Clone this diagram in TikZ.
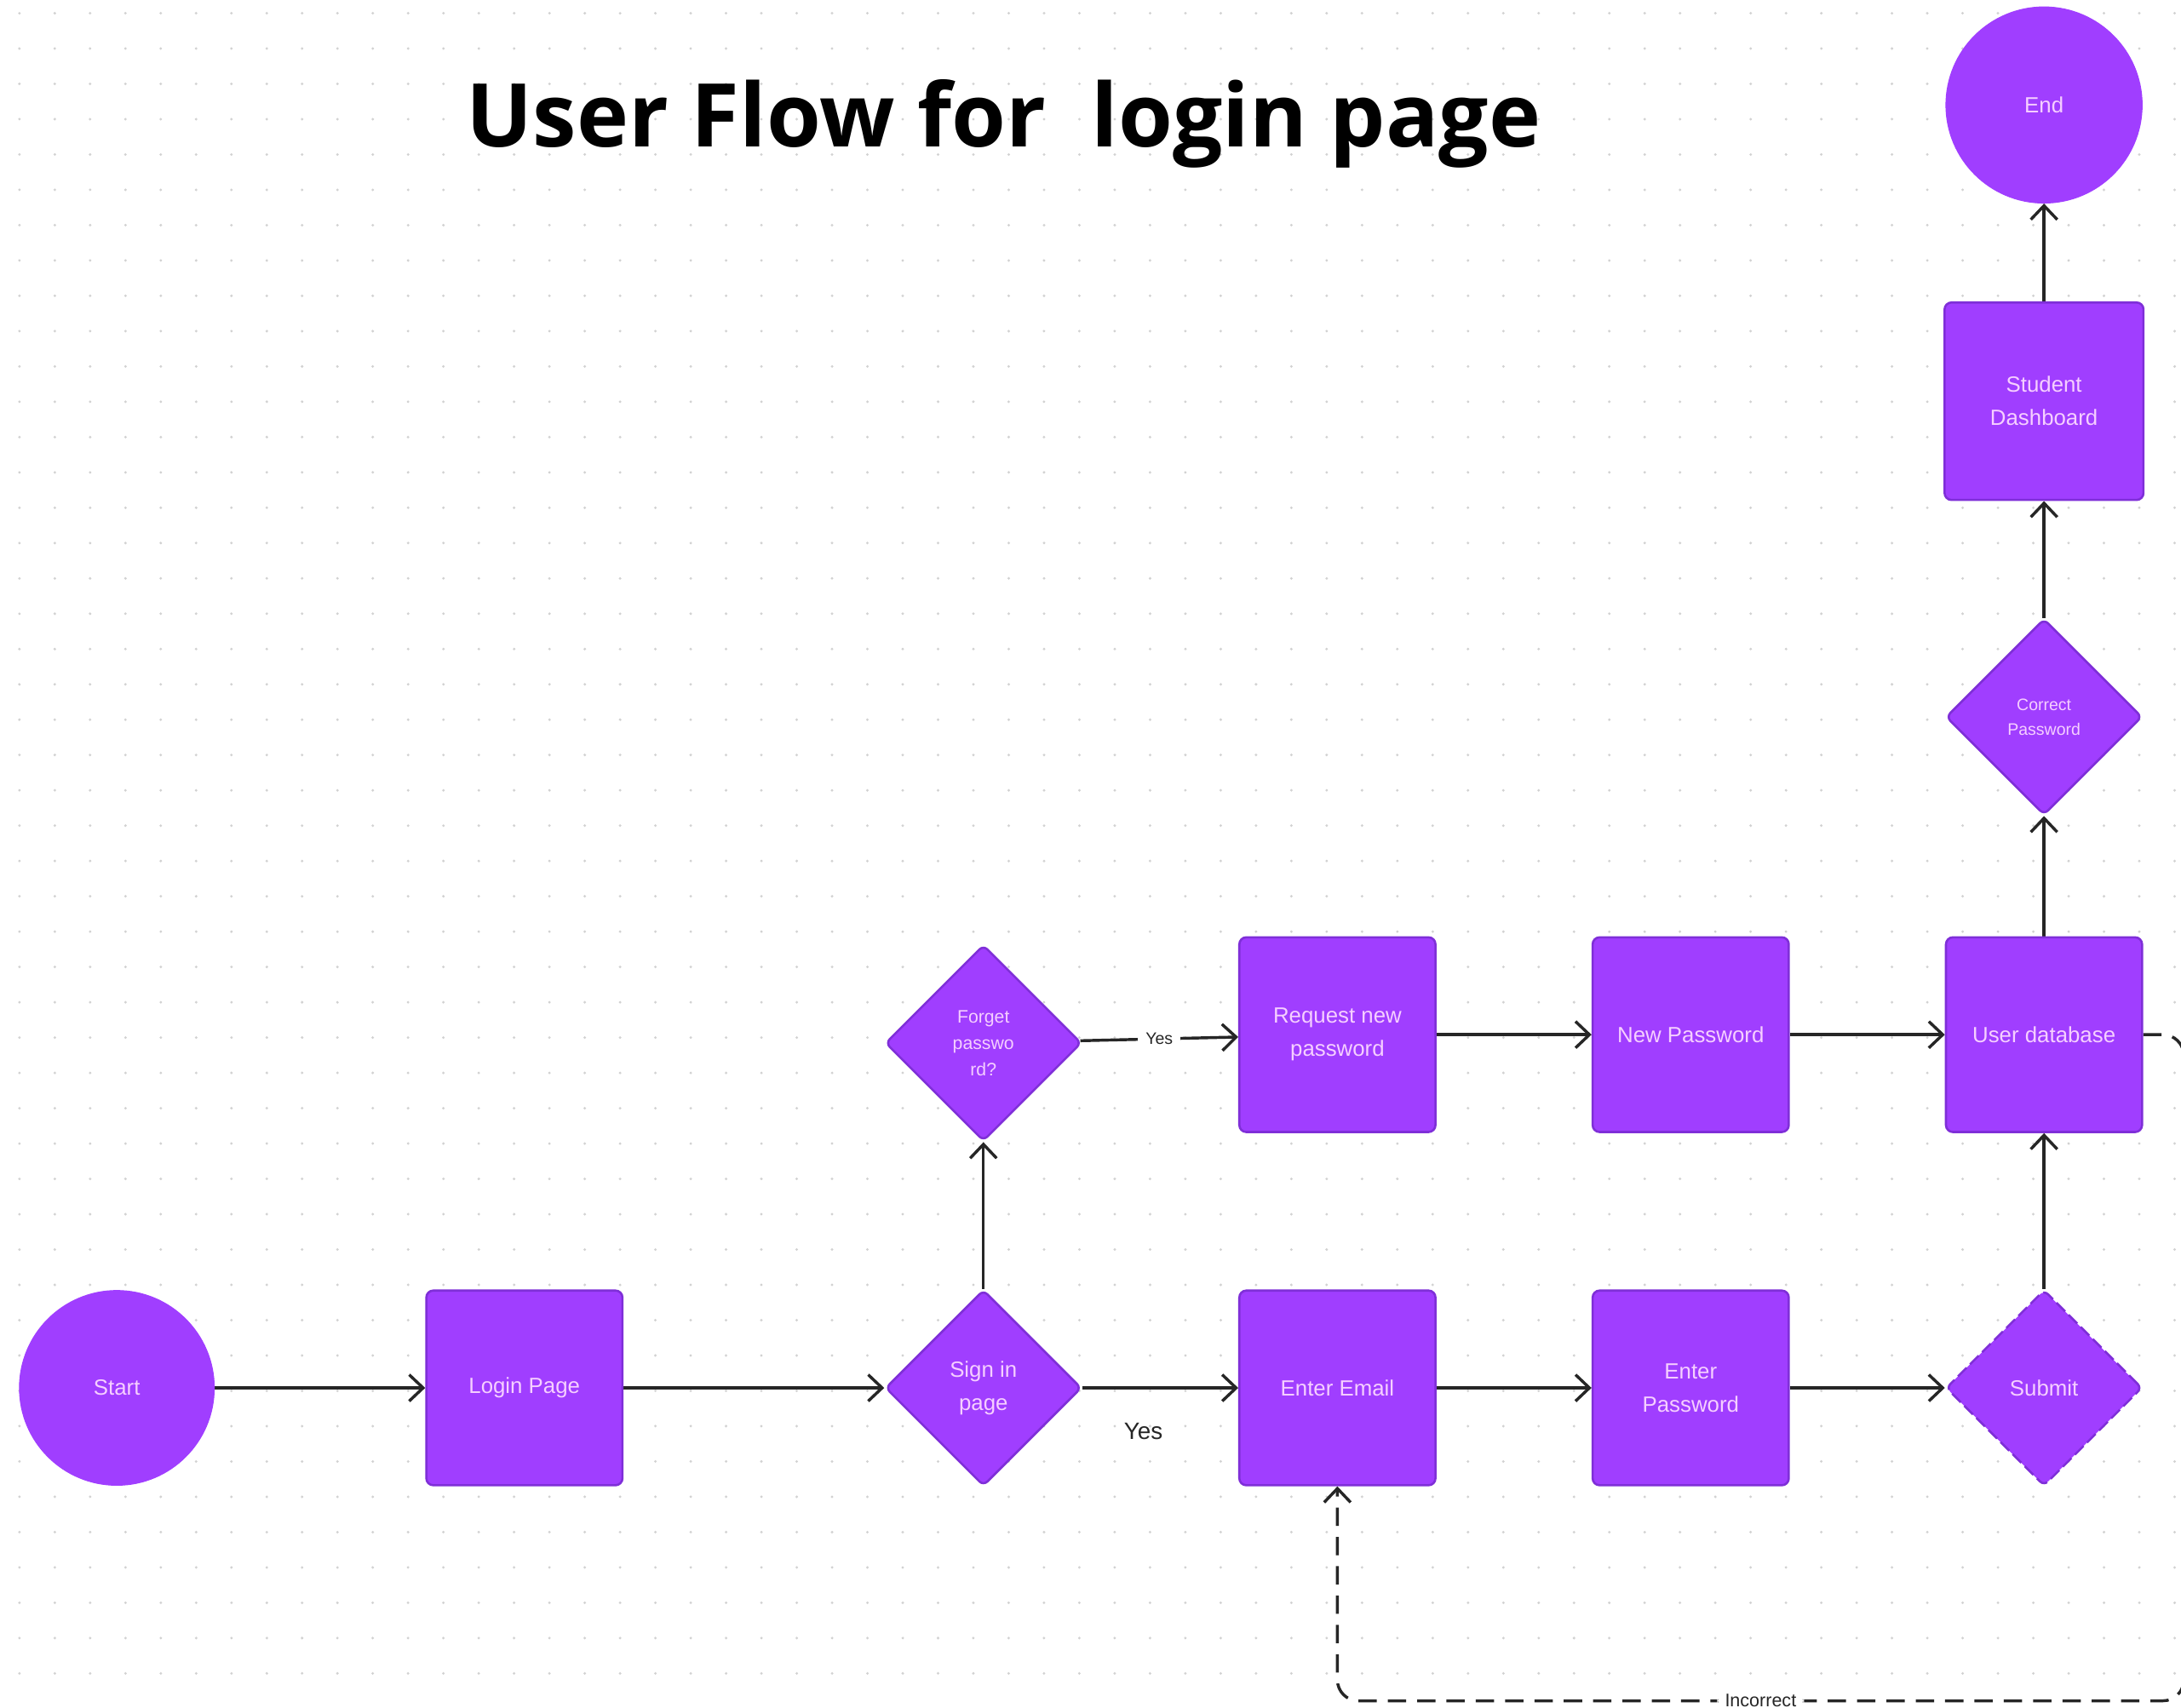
\documentclass[tikz,border=0pt]{standalone}
\usepackage{fontspec}
\setmainfont{Liberation Sans}
\newfontfamily\headfont{Open Sans}
\usepackage{tikz}
\usetikzlibrary{shapes,arrows.meta}
\pgfdeclarelayer{dotlayer}
\pgfdeclarelayer{edgelayer}
\pgfdeclarelayer{nodelayer}
\pgfsetlayers{dotlayer,edgelayer,nodelayer,main}
\definecolor{vpurple}{HTML}{A03EFF}
\definecolor{dpurple}{HTML}{7F2FD8}
\definecolor{lpink}{HTML}{F6CFFF}
\definecolor{ink}{HTML}{262626}
\definecolor{gridgray}{HTML}{D2D2D2}
\tikzstyle{terminal}=[circle, fill=vpurple, draw=vpurple, minimum size=2.8cm, inner sep=0pt, text=lpink, font=\fontsize{9}{13.6}\selectfont]
\tikzstyle{process}=[rectangle, rounded corners=0.1cm, fill=vpurple, draw=dpurple, line width=0.9pt, minimum width=2.82cm, minimum height=2.8cm, inner sep=0pt, text=lpink, align=center, font=\fontsize{9}{13.6}\selectfont]
\tikzstyle{decision}=[diamond, aspect=1, rounded corners=0.08cm, fill=vpurple, draw=dpurple, line width=0.9pt, minimum width=2.82cm, minimum height=2.82cm, inner sep=0pt, text=lpink, align=center, font=\fontsize{9}{13.6}\selectfont]
\tikzstyle{flow}=[-{Straight Barb[length=2mm,width=3.8mm]}, draw=ink, line width=1.2pt]
\tikzstyle{loopback}=[flow, dash pattern=on 7.5pt off 4.5pt, rounded corners=0.3cm]
\tikzstyle{edgelbl}=[fill=white, text=ink, inner sep=3.2pt, font=\fontsize{6.8}{8}\selectfont]
\tikzstyle{headline}=[text=black, inner sep=0pt, font=\headfont\bfseries\fontsize{36}{40}\selectfont]

\begin{document}
\begin{tikzpicture}
            \useasboundingbox (0,0) rectangle (31.36,-24.56);
            \begin{pgfonlayer}{dotlayer}
                \fill [white] (0,0) rectangle (31.36,-24.56);
                \foreach \i in {0,...,61}
                    \foreach \j in {0,...,47}
                        \fill [gridgray] ({0.28+\i*0.508},{-0.19-\j*0.508}) circle (0.02);
            \end{pgfonlayer}
            \begin{pgfonlayer}{nodelayer}
                \node [style=headline, anchor=base] (title) at (14.43, -2.11) {User Flow for\ \ login page};
                \node [style=terminal] (start) at (1.68, -19.96) {Start};
                \node [style=process] (login) at (7.54, -19.96) {Login Page};
                \node [style=decision] (signin) at (14.14, -19.96) {Sign in\\page};
                \node [style=decision, font=\fontsize{7.4}{10.8}\selectfont] (forgot) at (14.14, -15.0) {Forget\\passwo\\rd?};
                \node [style=process] (request) at (19.23, -14.88) {Request new\\password};
                \node [style=process] (newpw) at (24.31, -14.88) {New Password};
                \node [style=process] (userdb) at (29.39, -14.88) {User database};
                \node [style=decision, font=\fontsize{6.8}{10}\selectfont] (correct) at (29.39, -10.31) {Correct\\Password};
                \node [style=process, minimum width=2.86cm, minimum height=2.84cm] (dash) at (29.39, -5.77) {Student\\Dashboard};
                \node [style=terminal, minimum size=2.82cm] (finish) at (29.39, -1.51) {End};
                \node [style=process] (email) at (19.23, -19.96) {Enter Email};
                \node [style=process] (enterpw) at (24.31, -19.96) {Enter\\Password};
                \node [style=decision, dash pattern=on 5pt off 2pt] (submit) at (29.39, -19.96) {Submit};
                \coordinate (loopA) at (31.40, -14.88);
                \coordinate (loopB) at (31.40, -24.46);
                \coordinate (loopC) at (19.23, -24.46);
            \end{pgfonlayer}
            \begin{pgfonlayer}{edgelayer}
                \draw [style=flow] (start) to (login);
                \draw [style=flow] (login) to (signin);
                \draw [style=flow] (signin) to node [pos=0.39, yshift=-0.62cm, text=ink, font=\fontsize{9.7}{11}\selectfont] {Yes} (email);
                \draw [style=flow] (signin) to (forgot);
                \draw [style=flow] (forgot) to node [style=edgelbl] {Yes} (request);
                \draw [style=flow] (request) to (newpw);
                \draw [style=flow] (newpw) to (userdb);
                \draw [style=flow] (email) to (enterpw);
                \draw [style=flow] (enterpw) to (submit);
                \draw [style=flow] (submit) to (userdb);
                \draw [style=flow] (userdb) to (correct);
                \draw [style=flow] (correct) to (dash);
                \draw [style=flow] (dash) to (finish);
                \draw [style=loopback] (userdb) -- (loopA) -- (loopB) -- node [style=edgelbl, font=\fontsize{7.5}{9}\selectfont] {Incorrect} (loopC) -- (email);
            \end{pgfonlayer}
        \end{tikzpicture}
\end{document}
